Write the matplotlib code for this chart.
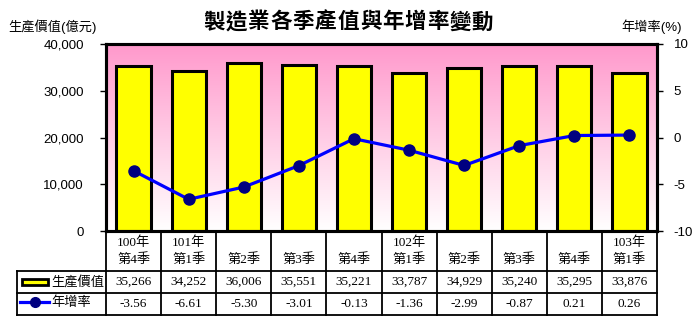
import matplotlib.pyplot as plt
import numpy as np
from matplotlib.colors import LinearSegmentedColormap

plt.rcParams['font.family'] = ['Liberation Sans', 'Noto Sans CJK TC']

title = "製造業各季產值與年增率變動"
quarters = ["100年\n第4季", "101年\n第1季", "第2季", "第3季", "第4季",
            "102年\n第1季", "第2季", "第3季", "第4季", "103年\n第1季"]
values = [35266, 34252, 36006, 35551, 35221, 33787, 34929, 35240, 35295, 33876]
rates = [-3.56, -6.61, -5.30, -3.01, -0.13, -1.36, -2.99, -0.87, 0.21, 0.26]

W, H = 696, 322
fig = plt.figure(figsize=(W / 100, H / 100), dpi=100)

# plot area in pixels
px_l, px_r, px_t, px_b = 106, 657, 44, 231
ax = fig.add_axes([px_l / W, 1 - px_b / H, (px_r - px_l) / W, (px_b - px_t) / H])
n = len(values)
x = np.arange(n)

# pink -> white background gradient
cmap = LinearSegmentedColormap.from_list("bg", ["#ffffff", "#ff99cc"])
grad = np.linspace(0, 1, 256).reshape(-1, 1)
ax.imshow(grad, cmap=cmap, aspect="auto", origin="lower",
          extent=[-0.5, n - 0.5, 0, 40000], zorder=0)

ax.bar(x, values, width=0.62, color="#ffff00", edgecolor="black", linewidth=2.2, zorder=2)
ax.set_xlim(-0.5, n - 0.5)
ax.set_ylim(0, 40000)
ax.set_yticks(range(0, 40001, 10000))
ax.set_yticklabels([f"{v:,}" for v in range(0, 40001, 10000)], fontsize=9.5)
ax.set_xticks([])
ax.tick_params(axis="y", length=4, width=1, pad=12)
for s in ax.spines.values():
    s.set_linewidth(2.2)

ax2 = ax.twinx()
ax2.plot(x, rates, color="#0000ff", linewidth=2.3, marker="o", markersize=8,
         markerfacecolor="#000080", markeredgecolor="#000080", zorder=3)
ax2.set_ylim(-10, 10)
ax2.set_yticks([-10, -5, 0, 5, 10])
ax2.set_yticklabels(["-10", "-5", "0", "5", "10"], fontsize=9.5)
ax2.tick_params(axis="y", length=4, width=1, pad=8)
for s in ax2.spines.values():
    s.set_linewidth(2.2)

# title with wide letter spacing
step = 22.4
start = 348 - step * (len(title) - 1) / 2
for k, ch in enumerate(title):
    fig.text((start + k * step) / W, 1 - 22 / H, ch, ha="center", va="center",
             fontsize=15.5, fontweight="bold", family=["Noto Sans CJK TC"])
fig.text(8 / W, 1 - 27 / H, "生產價值(億元)", ha="left", va="center", fontsize=9.5)
fig.text(682 / W, 1 - 27 / H, "年增率(%)", ha="right", va="center", fontsize=9.5)

# data table below the plot
tb = fig.add_axes([0, 0, 1, 1], zorder=5)
tb.set_xlim(0, W)
tb.set_ylim(H, 0)
tb.axis("off")
tb.patch.set_alpha(0)

colw = (px_r - px_l) / n
row_val = (271, 293)
row_rate = (293, 315)
leg_l = 17
lw = 1.3
serif = ["Liberation Serif", "Noto Sans CJK TC"]

for i in range(n + 1):
    xx = px_l + i * colw
    tb.plot([xx, xx], [px_b, row_rate[1]], color="black", lw=lw)
tb.plot([leg_l, leg_l], [row_val[0], row_rate[1]], color="black", lw=lw)
tb.plot([leg_l, px_r], [row_val[0], row_val[0]], color="black", lw=lw)
tb.plot([leg_l, px_r], [row_rate[0], row_rate[0]], color="black", lw=lw)
tb.plot([leg_l, px_r], [row_rate[1], row_rate[1]], color="black", lw=lw)

for i in range(n):
    cx = px_l + (i + 0.5) * colw
    lines = quarters[i].split("\n")
    if len(lines) == 2:
        tb.text(cx, 243, lines[0], ha="center", va="center", fontsize=9.5, family=serif)
    tb.text(cx, 260, lines[-1], ha="center", va="center", fontsize=9.5, family=serif)
    tb.text(cx, (row_val[0] + row_val[1]) / 2, f"{values[i]:,}", ha="center", va="center",
            fontsize=9.5, family=serif)
    tb.text(cx, (row_rate[0] + row_rate[1]) / 2, f"{rates[i]:.2f}", ha="center", va="center",
            fontsize=9.5, family=serif)

# legend keys inside table
tb.add_patch(plt.Rectangle((22, 278.5), 26, 6, facecolor="#ffff00", edgecolor="black", lw=2))
tb.text(51, 282, "生產價值", ha="left", va="center", fontsize=9.5)
tb.plot([20, 49], [302, 302], color="#0000ff", lw=2.3)
tb.plot([35], [302], marker="o", markersize=7, color="#000080")
tb.text(51, 303, "年增率", ha="left", va="center", fontsize=9.5)

fig.savefig("out.png", dpi=100)
